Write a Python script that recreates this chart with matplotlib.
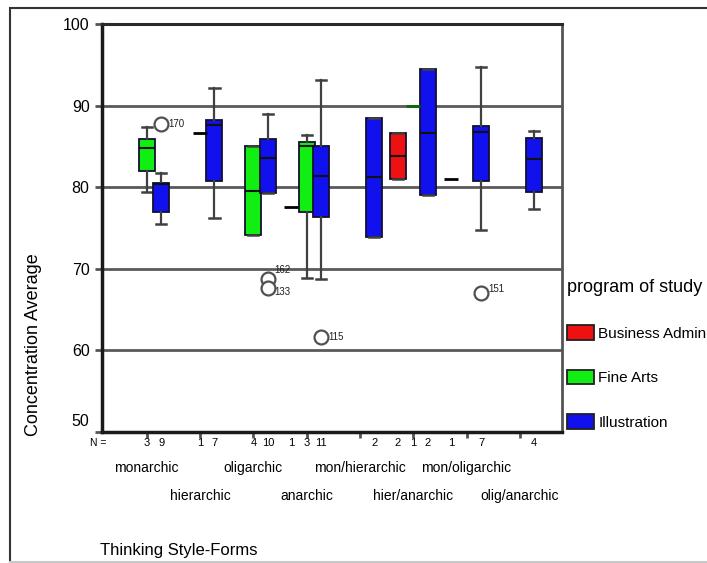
import matplotlib
matplotlib.use("Agg")
import matplotlib.pyplot as plt
from matplotlib.patches import Patch, Rectangle
from matplotlib.lines import Line2D
import matplotlib.transforms as mtransforms

plt.rcParams["font.family"] = ["Liberation Sans", "DejaVu Sans"]

# Thinking style-forms on the x axis (8 clusters)
categories = ["monarchic", "hierarchic", "oligarchic", "anarchic",
              "mon/hierarchic", "hier/anarchic", "mon/oligarchic", "olig/anarchic"]
programs = ["Business Admin", "Fine Arts", "Illustration"]
prog_colors = {"Business Admin": "#ee1111", "Fine Arts": "#11ee11", "Illustration": "#1111ee"}

# Boxes: category index, program, N, whisker low, Q1, median, Q3, whisker high
box_cat = [0, 0, 1, 2, 2, 3, 3, 4, 5, 5, 6, 7]
box_prog = ["Fine Arts", "Illustration", "Illustration", "Fine Arts", "Illustration",
            "Fine Arts", "Illustration", "Illustration", "Business Admin",
            "Illustration", "Illustration", "Illustration"]
box_n = [3, 9, 7, 4, 10, 3, 11, 2, 2, 2, 7, 4]
box_lo = [79.4, 75.5, 76.2, 74.1, 79.3, 68.9, 68.7, 73.9, 81.0, 79.1, 74.7, 77.3]
box_q1 = [82.0, 77.0, 80.8, 74.1, 79.3, 76.9, 76.4, 73.9, 81.0, 79.1, 80.8, 79.4]
box_med = [84.8, 80.4, 87.6, 79.5, 83.6, 85.0, 81.4, 81.2, 83.8, 86.7, 86.8, 83.4]
box_q3 = [85.9, 80.5, 88.2, 85.1, 85.9, 85.5, 85.1, 88.5, 86.6, 94.5, 87.5, 86.0]
box_hi = [87.4, 81.7, 92.2, 85.1, 89.0, 86.4, 93.1, 88.5, 86.6, 94.5, 94.7, 86.9]

# Groups with a single case (drawn as a lone median line)
single_cat = [1, 3, 5, 6]
single_prog = ["Fine Arts", "Business Admin", "Fine Arts", "Business Admin"]
single_val = [86.7, 77.6, 90.0, 81.0]
single_color = ["black", "black", "#0a6a0a", "black"]

# Outliers: category index, program, value, case label
out_cat = [0, 2, 2, 3, 6]
out_prog = ["Illustration", "Illustration", "Illustration", "Illustration", "Illustration"]
out_val = [87.8, 68.7, 67.6, 61.6, 67.0]
out_label = ["170", "162", "133", "115", "151"]
out_dy = [0, 9, -4, 0, 4]   # label offset in pixels

slot = {"Business Admin": -0.29, "Fine Arts": 0.0, "Illustration": 0.27}

fig = plt.figure(figsize=(7.07, 5.63), dpi=100)
ax = fig.add_axes([0.1443, 0.2327, 0.6506, 0.7247])

for y in [60, 70, 80, 90]:
    ax.axhline(y, color="#5a5a5a", lw=2, zorder=0.5)

for i in range(len(box_cat)):
    pos = box_cat[i] + slot[box_prog[i]]
    st = [{"whislo": box_lo[i], "q1": box_q1[i], "med": box_med[i],
           "q3": box_q3[i], "whishi": box_hi[i], "fliers": []}]
    ax.bxp(st, positions=[pos], widths=0.3, patch_artist=True, manage_ticks=False,
           boxprops=dict(facecolor=prog_colors[box_prog[i]], edgecolor="#101030", lw=1.3),
           medianprops=dict(color="#101010", lw=1.5),
           whiskerprops=dict(color="#404040", lw=1.6),
           capprops=dict(color="#404040", lw=1.8), capwidths=0.19)

for c, p, v, col in zip(single_cat, single_prog, single_val, single_color):
    pos = c + slot[p]
    ax.hlines(v, pos - 0.13, pos + 0.13, color=col, lw=2, zorder=3)

for c, p, v, lab, dy in zip(out_cat, out_prog, out_val, out_label, out_dy):
    pos = c + slot[p]
    ax.plot(pos, v, "o", ms=10, mfc="white", mec="#505050", mew=1.6, zorder=4)
    ax.annotate(lab, (pos, v), xytext=(7, dy), textcoords="offset pixels",
                fontsize=7, ha="left", va="center", color="#202020")

ax.set_xlim(-0.84, 7.79)
ax.set_ylim(50, 100)
ax.set_yticks([50, 60, 70, 80, 90, 100])
ax.tick_params(axis="y", labelsize=11.5, length=5, width=2, color="#555555", pad=4)

# category labels in two staggered rows: even ones as major ticks, odd ones as minor
ax.set_xticks(range(0, len(categories), 2))
ax.set_xticklabels(categories[0::2], fontsize=10)
ax.set_xticks(range(1, len(categories), 2), minor=True)
ax.set_xticklabels(categories[1::2], minor=True, fontsize=10)
ax.tick_params(axis="x", which="major", length=4, width=2, color="#555555", pad=17)
ax.tick_params(axis="x", which="minor", length=4, width=2, color="#555555", pad=37)

# move the lowest y label up like the original
lab50 = ax.get_yticklabels()[0]
lab50.set_transform(lab50.get_transform() + mtransforms.ScaledTranslation(0, 12 / 100, fig.dpi_scale_trans))

for side, lw, col in [("left", 2.5, "#1a1a1a"), ("bottom", 2.5, "#1a1a1a"),
                      ("top", 2.2, "#2a2a2a"), ("right", 2.0, "#555555")]:
    ax.spines[side].set_linewidth(lw)
    ax.spines[side].set_color(col)

# N row under the axis
trans = mtransforms.blended_transform_factory(ax.transData, ax.transAxes)
for i in range(len(box_cat)):
    ax.text(box_cat[i] + slot[box_prog[i]], -0.027, str(box_n[i]), transform=trans,
            ha="center", va="center", fontsize=8)
for c, p in zip(single_cat, single_prog):
    ax.text(c + slot[p], -0.027, "1", transform=trans, ha="center", va="center", fontsize=8)
ax.text(-0.92, -0.027, "N =", transform=trans, ha="center", va="center", fontsize=7.5)

ax.set_ylabel("Concentration Average", fontsize=13)
ax.yaxis.set_label_coords(-0.13, 0.213)
fig.text(100 / 707, 1 - 550 / 563, "Thinking Style-Forms", fontsize=12,
         ha="left", va="center")

handles = [Patch(facecolor=prog_colors[p], edgecolor="#202020", lw=1.3) for p in programs]
leg = fig.legend(handles, programs, loc="upper left", bbox_to_anchor=(564 / 707, 1 - 276 / 563),
                 frameon=False, fontsize=11, title="program of study", title_fontsize=13,
                 alignment="left", labelspacing=1.9, handlelength=1.75, handleheight=1.1,
                 handletextpad=0.3, borderpad=0.2, borderaxespad=0)

# outer frame of the chart area
fig.patches.append(Rectangle((10 / 707, -0.01), 1.0, 1 - 8 / 563 + 0.01, fill=False,
                             edgecolor="#333333", lw=1.5, transform=fig.transFigure))
fig.lines.append(Line2D([10 / 707, 1], [1.5 / 563, 1.5 / 563], color="#c8c8c8", lw=1.5,
                        transform=fig.transFigure))

fig.savefig("out.png", dpi=100)
